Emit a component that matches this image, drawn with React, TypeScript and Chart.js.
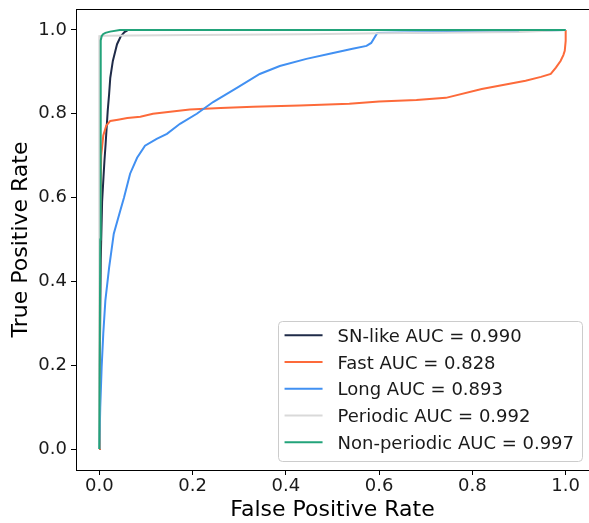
import React, { useEffect, useRef } from 'react';
import { Chart, registerables } from 'chart.js';

Chart.register(...registerables);

// ---- Data ----
const seriesLabels = [
  'SN-like AUC = 0.990',
  'Fast AUC = 0.828',
  'Long AUC = 0.893',
  'Periodic AUC = 0.992',
  'Non-periodic AUC = 0.997',
];
const seriesColors = ['#1f2b48', '#fd6a3a', '#4190f2', '#d9d9d9', '#22a37a'];

const snLikeFpr = [0, 0.001, 0.003, 0.006, 0.009, 0.011, 0.0135, 0.018, 0.021, 0.0235, 0.029, 0.038, 0.046, 0.054, 0.062, 1];
const snLikeTpr = [0, 0.2, 0.45, 0.59, 0.65, 0.688, 0.728, 0.807, 0.847, 0.886, 0.926, 0.966, 0.985, 0.995, 1.0, 1.0];

const fastFpr = [0, 0.001, 0.002, 0.004, 0.0085, 0.015, 0.0235, 0.04, 0.06, 0.088, 0.115, 0.152, 0.194, 0.26, 0.33, 0.43, 0.536, 0.6, 0.68, 0.743, 0.82, 0.857, 0.914, 0.947, 0.968, 0.979, 0.989, 0.995, 0.998, 1.0, 1.0];
const fastTpr = [0, 0.3, 0.55, 0.7, 0.748, 0.772, 0.783, 0.786, 0.79, 0.793, 0.8, 0.805, 0.81, 0.814, 0.817, 0.82, 0.824, 0.829, 0.833, 0.838, 0.859, 0.867, 0.879, 0.888, 0.895, 0.91, 0.926, 0.94, 0.95, 0.974, 1.0];

const longFpr = [0, 0.002, 0.005, 0.0085, 0.013, 0.021, 0.031, 0.045, 0.053, 0.066, 0.081, 0.098, 0.123, 0.145, 0.173, 0.209, 0.244, 0.295, 0.344, 0.387, 0.444, 0.494, 0.543, 0.573, 0.583, 0.596, 0.65, 0.8, 1];
const longTpr = [0, 0.1, 0.195, 0.276, 0.355, 0.433, 0.514, 0.569, 0.6, 0.657, 0.695, 0.724, 0.74, 0.752, 0.776, 0.8, 0.828, 0.862, 0.895, 0.914, 0.931, 0.943, 0.955, 0.962, 0.969, 0.993, 0.994, 0.996, 1];

const periodicFpr = [0, 0, 0.01, 0.2, 0.45, 0.6, 0.9, 1];
const periodicTpr = [0, 0.985, 0.986, 0.988, 0.99, 0.992, 0.995, 1];

const nonPeriodicFpr = [0, 0.002, 0.003, 0.003, 0.005, 0.008, 0.013, 0.023, 0.044, 1];
const nonPeriodicTpr = [0, 0.5, 0.9, 0.975, 0.985, 0.99, 0.993, 0.996, 1, 1];

const xTickValues = [0, 0.2, 0.4, 0.6, 0.8, 1.0];
const yTickValues = [0, 0.2, 0.4, 0.6, 0.8, 1.0];

const seriesFpr = [snLikeFpr, fastFpr, longFpr, periodicFpr, nonPeriodicFpr];
const seriesTpr = [snLikeTpr, fastTpr, longTpr, periodicTpr, nonPeriodicTpr];

const FONT = "'DejaVu Sans', sans-serif";

const framePlugin = {
  id: 'frameAndLegend',
  afterDraw(chart: any) {
    const ctx = chart.ctx as CanvasRenderingContext2D;
    const area = chart.chartArea;
    ctx.save();
    // the right spine lies outside the cropped picture: keep the right edge clear
    ctx.fillStyle = '#ffffff';
    ctx.fillRect(area.right - 2, area.top + 1, 3, area.bottom - area.top - 1);
    // top spine
    ctx.strokeStyle = '#000';
    ctx.lineWidth = 1;
    ctx.beginPath();
    ctx.moveTo(area.left, Math.round(area.top) + 0.5);
    ctx.lineTo(area.right + 1, Math.round(area.top) + 0.5);
    ctx.stroke();

    // legend (lower right, inside the plot)
    const fontSize = 18;
    ctx.font = `${fontSize}px ${FONT}`;
    const datasets = chart.data.datasets;
    let maxW = 0;
    datasets.forEach((d: any) => {
      maxW = Math.max(maxW, ctx.measureText(d.label).width);
    });
    const padL = 7, lineLen = 38, gap = 15, padR = 8;
    const rowH = 26.75, padTop = 14.3, padBottom = 18.7;
    const boxW = padL + lineLen + gap + maxW + padR;
    const boxH = padTop + rowH * (datasets.length - 1) + padBottom;
    const right = area.right - 7;
    const bottom = area.bottom - 9;
    const left = right - boxW;
    const top = bottom - boxH;
    ctx.beginPath();
    (ctx as any).roundRect(Math.round(left) + 0.5, Math.round(top) + 0.5, Math.round(boxW), Math.round(boxH), 4);
    ctx.fillStyle = 'rgba(255,255,255,0.8)';
    ctx.fill();
    ctx.strokeStyle = '#cccccc';
    ctx.lineWidth = 1;
    ctx.stroke();
    datasets.forEach((d: any, i: number) => {
      const cy = top + padTop + rowH * i;
      ctx.strokeStyle = d.borderColor;
      ctx.lineWidth = 2;
      ctx.beginPath();
      ctx.moveTo(left + padL, cy);
      ctx.lineTo(left + padL + lineLen, cy);
      ctx.stroke();
      ctx.fillStyle = '#1a1a1a';
      ctx.textAlign = 'left';
      ctx.textBaseline = 'alphabetic';
      ctx.fillText(d.label, left + padL + lineLen + gap, cy + 0.3645 * fontSize);
    });
    ctx.restore();
  },
};

export default function App() {
  const ref = useRef<HTMLCanvasElement>(null);

  useEffect(() => {
    const canvas = ref.current;
    if (!canvas) return;
    const n = seriesLabels.length;
    const chart = new Chart(canvas, {
      type: 'line',
      data: {
        datasets: seriesLabels.map((label, i) => ({
          label,
          data: seriesFpr[i].map((x, j) => ({ x, y: seriesTpr[i][j] })),
          borderColor: seriesColors[i],
          backgroundColor: seriesColors[i],
          borderWidth: 2,
          pointRadius: 0,
          tension: 0,
          fill: false,
          order: n - 1 - i,
        })),
      },
      options: {
        animation: false,
        responsive: false,
        devicePixelRatio: 1,
        layout: { padding: { top: 9, right: 0, left: 0, bottom: 0 } },
        plugins: {
          legend: { display: false },
          tooltip: { enabled: false },
        },
        scales: {
          x: {
            type: 'linear',
            min: -0.05,
            max: 1.05,
            afterBuildTicks: (s: any) => {
              s.ticks = xTickValues.map((v) => ({ value: v }));
            },
            afterFit: (s: any) => {
              s.height = 53;
              s.paddingLeft = 0;
              s.paddingRight = 0;
            },
            ticks: {
              callback: (v: any) => Number(v).toFixed(1),
              font: { family: FONT, size: 18 },
              color: '#1a1a1a',
              padding: 1,
              maxRotation: 0,
              autoSkip: false,
            },
            grid: {
              display: true,
              drawOnChartArea: false,
              drawTicks: true,
              tickLength: 5,
              tickColor: '#000',
              tickWidth: 1,
            },
            border: { display: true, color: '#000', width: 1 },
            title: {
              display: true,
              text: 'False Positive Rate',
              font: { family: FONT, size: 22 },
              color: '#000',
              padding: { top: 0, bottom: 0 },
            },
          },
          y: {
            type: 'linear',
            min: -0.05,
            max: 1.05,
            afterBuildTicks: (s: any) => {
              s.ticks = yTickValues.map((v) => ({ value: v }));
            },
            afterFit: (s: any) => {
              s.width = 76;
              s.paddingTop = 0;
              s.paddingBottom = 0;
            },
            ticks: {
              callback: (v: any) => Number(v).toFixed(1),
              font: { family: FONT, size: 18 },
              color: '#1a1a1a',
              padding: 4,
              autoSkip: false,
            },
            grid: {
              display: true,
              drawOnChartArea: false,
              drawTicks: true,
              tickLength: 5,
              tickColor: '#000',
              tickWidth: 1,
            },
            border: { display: true, color: '#000', width: 1 },
            title: {
              display: true,
              text: 'True Positive Rate',
              font: { family: FONT, size: 22 },
              color: '#000',
              padding: { top: 8, bottom: 0 },
            },
          },
        },
      },
      plugins: [framePlugin],
    } as any);
    return () => chart.destroy();
  }, []);

  return (
    <div
      style={{
        position: 'absolute',
        left: 0,
        top: 0,
        width: 589,
        height: 523,
        overflow: 'hidden',
        background: '#fff',
      }}
    >
      <canvas ref={ref} width={589} height={523} style={{ width: 589, height: 523, display: 'block' }} />
    </div>
  );
}
